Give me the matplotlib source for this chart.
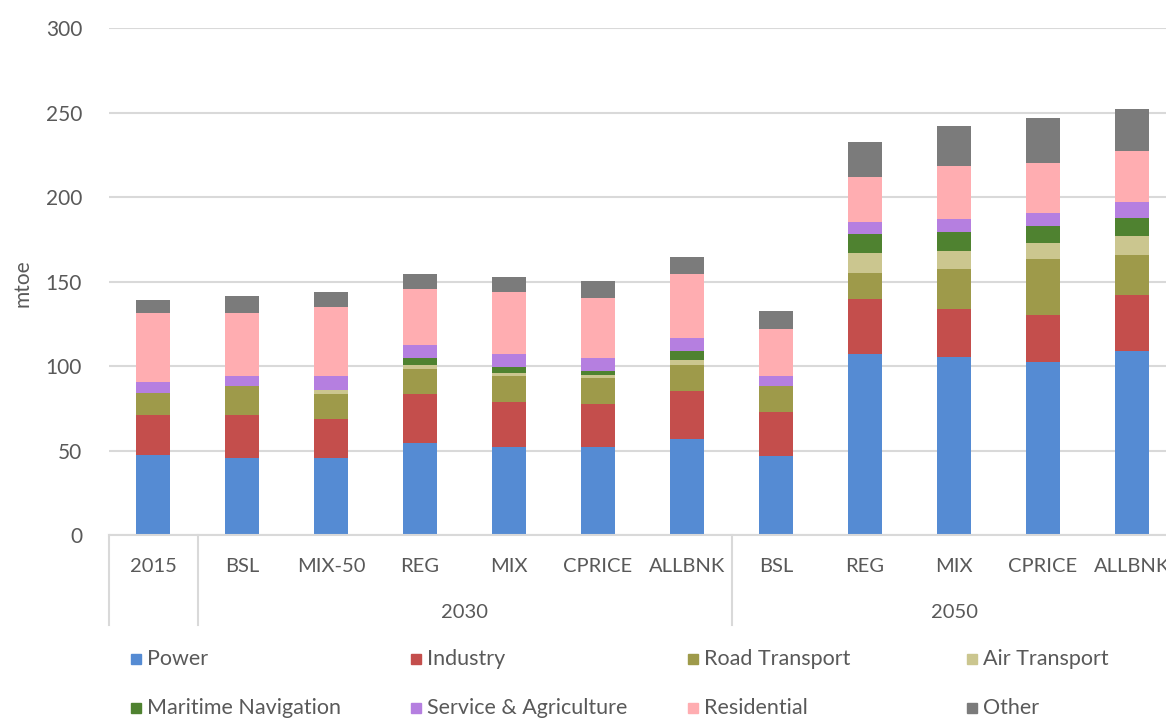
import matplotlib
matplotlib.use("Agg")
import matplotlib.pyplot as plt
from matplotlib.patches import Rectangle
import matplotlib.transforms as mtransforms
import numpy as np

plt.rcParams['font.family'] = ['Lato', 'DejaVu Sans']

# scenarios (first level) and years (second level)
scenarios = ["2015", "BSL", "MIX-50", "REG", "MIX", "CPRICE", "ALLBNK",
             "BSL", "REG", "MIX", "CPRICE", "ALLBNK"]
groups = [("", 0, 0), ("2030", 1, 6), ("2050", 7, 11)]

sectors = ["Power", "Industry", "Road Transport", "Air Transport",
           "Maritime Navigation", "Service & Agriculture", "Residential", "Other"]
colors = ["#558bd3", "#c44e4c", "#9e9a4a", "#cbc68f",
          "#4f8230", "#b57fe0", "#ffadb1", "#7b7b7b"]

power = [47.5, 45.5, 45.5, 54.4, 52.0, 52.0, 56.8, 46.9, 107.4, 105.2, 102.3, 108.8]
industry = [23.3, 25.3, 23.2, 29.3, 26.5, 25.6, 28.7, 25.7, 32.1, 28.9, 27.8, 33.2]
road = [13.0, 17.2, 15.0, 14.6, 15.5, 15.4, 15.4, 15.4, 15.8, 23.6, 33.1, 23.8]
air = [0.0, 0.0, 2.4, 2.6, 2.0, 2.0, 2.5, 0.0, 11.9, 10.4, 9.9, 11.3]
maritime = [0.0, 0.0, 0.0, 4.0, 3.5, 2.3, 5.4, 0.0, 10.8, 11.3, 9.9, 10.9]
service = [6.7, 6.4, 8.3, 7.9, 7.9, 7.6, 7.9, 6.4, 7.3, 7.5, 7.5, 9.2]
residential = [40.8, 37.2, 40.7, 32.6, 36.6, 35.2, 37.6, 27.7, 26.9, 31.7, 29.5, 30.3]
other = [7.7, 9.8, 8.7, 8.9, 8.9, 10.3, 10.5, 10.4, 20.6, 23.4, 26.9, 24.7]

series = [power, industry, road, air, maritime, service, residential, other]

W, H = 1166, 720
fig = plt.figure(figsize=(W / 100, H / 100), dpi=100)
ax_h = (535 - 28.4) / H
ax = fig.add_axes([108.5 / W, 185 / H, 1068 / W, ax_h])

x = np.arange(len(scenarios))
bottom = np.zeros(len(scenarios))
for vals, col, name in zip(series, colors, sectors):
    vals = np.array(vals)
    ax.bar(x, vals, 0.39, bottom=bottom, color=col, label=name, zorder=3)
    bottom += vals

ax.set_xlim(-0.5, len(scenarios) - 0.5)
ax.set_ylim(0, 300)
ax.set_yticks(range(0, 301, 50))
ax.yaxis.grid(True, color="#d9d9d9", linewidth=1.5, zorder=0)
for s in ["top", "right", "left"]:
    ax.spines[s].set_visible(False)
ax.spines["bottom"].set_color("#d9d9d9")
ax.spines["bottom"].set_linewidth(1.5)
ax.spines["bottom"].set_zorder(4)
ax.tick_params(axis="y", length=0, pad=19, labelsize=15, labelcolor="#595959")
ax.set_xticks([])

# the last label runs past the right edge, as in the original
trans = mtransforms.blended_transform_factory(ax.transData, ax.transAxes)
px = 1.0 / (535 - 28.4)
for i, lab in enumerate(scenarios):
    ax.text(i, -32 * px, lab, transform=trans, ha="center", va="center",
            fontsize=14.5, color="#595959", clip_on=False)
for name, a, b in groups:
    if name:
        ax.text((a + b) / 2, -77 * px, name, transform=trans, ha="center",
                va="center", fontsize=14.5, color="#595959", clip_on=False)
# separators of the category axis
for xs in [-0.5, 0.5, 6.5, 11.5]:
    ax.plot([xs, xs], [0, -90 * px], transform=trans, color="#d9d9d9",
            linewidth=1.5, clip_on=False)

fig.text(22 / W, 1 - 283 / H, "mtoe", rotation=90, ha="center", va="center",
         fontsize=15, color="#595959")

# legend, 4 columns x 2 rows
col_x = [131, 411, 688, 967]
row_y = [659, 708]
for k, (name, col) in enumerate(zip(sectors, colors)):
    lx = col_x[k % 4]
    ly = row_y[k // 4]
    fig.add_artist(Rectangle((lx / W, 1 - (ly + 5) / H), 10 / W, 10 / H,
                             transform=fig.transFigure, color=col))
    fig.text((lx + 16) / W, 1 - ly / H, name, ha="left", va="center",
             fontsize=15.5, color="#595959")

fig.savefig("out.png", dpi=100)
